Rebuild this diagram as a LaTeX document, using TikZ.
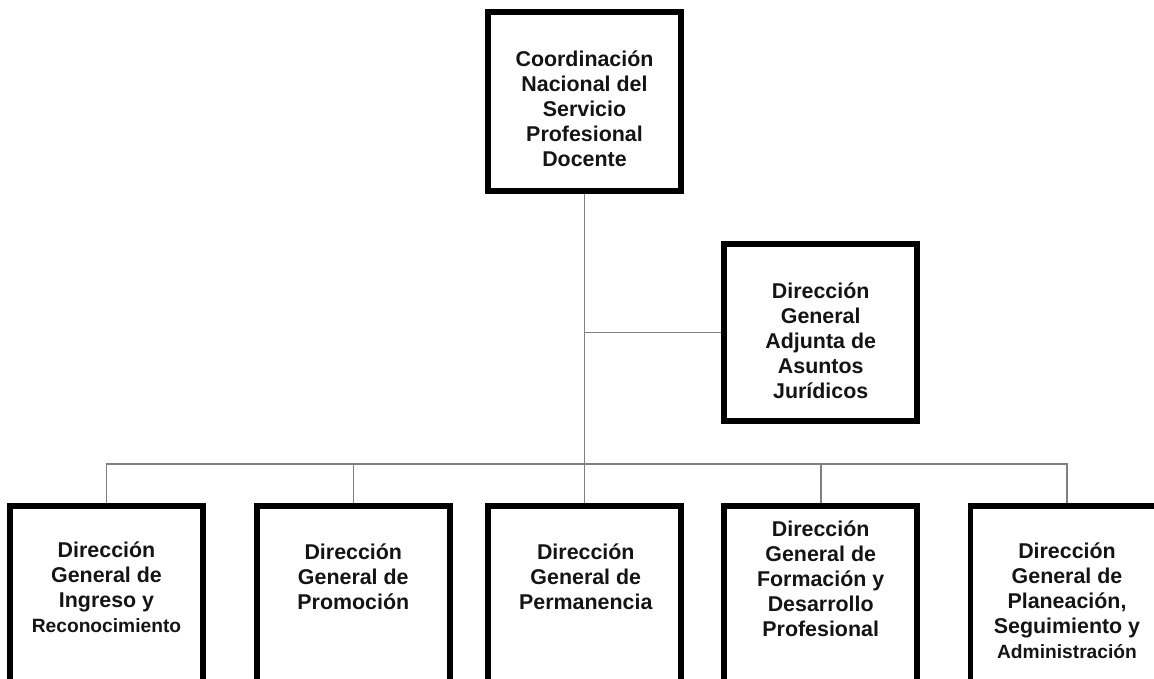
\documentclass[tikz,border=0pt]{standalone}
\usepackage{fontspec}
\setmainfont{Liberation Sans}
\begin{document}
\begin{tikzpicture}[x=1pt,y=-1pt,
  box/.style={draw=black,line width=5.8pt,rectangle,inner sep=0pt,minimum width=193pt,minimum height=179pt},
  lowbox/.style={box,minimum height=300pt},
  txt/.style={align=center,inner sep=0pt,font=\bfseries\fontsize{21.4}{25}\selectfont,text=black!92},
  conn/.style={draw=black!50,line width=1.6pt}]
\useasboundingbox (0,0) rectangle (1154,678);
\clip (0,0) rectangle (1154,678);
% boxes
\node[box] (top) at (584.5,101.4) {};
\node[box,minimum height=177pt] (adj) at (820.7,332.5) {};
\node[lowbox] (b1) at (106.5,655.7) {};
\node[lowbox] (b2) at (353.3,655.7) {};
\node[lowbox] (b3) at (584.5,655.7) {};
\node[lowbox] (b4) at (820.7,655.7) {};
\node[lowbox] (b5) at (1067,655.7) {};
\coordinate (bus) at (0,464);
% connectors
\draw[conn] (top.south) -- (b3.north);
\draw[conn] (top.south |- adj.west) -- (adj.west);
\draw[conn] (b1.north) -- (b1.north |- bus) -- (b5.north |- bus) -- (b5.north);
\draw[conn] (b2.north) -- (b2.north |- bus);
\draw[conn] (b4.north) -- (b4.north |- bus);
% texts
\node[txt] (ttop) at (584.5,109.2) {Coordinación\\Nacional del\\Servicio\\Profesional\\Docente};
\node[txt] (tadj) at (820.7,340.8) {Dirección\\General\\Adjunta de\\Asuntos\\Jurídicos};
\node[txt] (tb1) at (106.5,587.5) {Dirección\\General de\\Ingreso y\\{\fontsize{19.2}{25}\selectfont Reconocimiento}};
\node[txt] (tb2) at (353.3,576.7) {Dirección\\General de\\Promoción};
\node[txt] (tb3) at (585.8,576.5) {Dirección\\General de\\Permanencia};
\node[txt] (tb4) at (820.7,579.2) {Dirección\\General de\\Formación y\\Desarrollo\\Profesional};
\node[txt] (tb5) at (1067,600.3) {Dirección\\General de\\Planeación,\\Seguimiento y\\{\fontsize{19.2}{25}\selectfont Administración}};
\end{tikzpicture}
\end{document}
